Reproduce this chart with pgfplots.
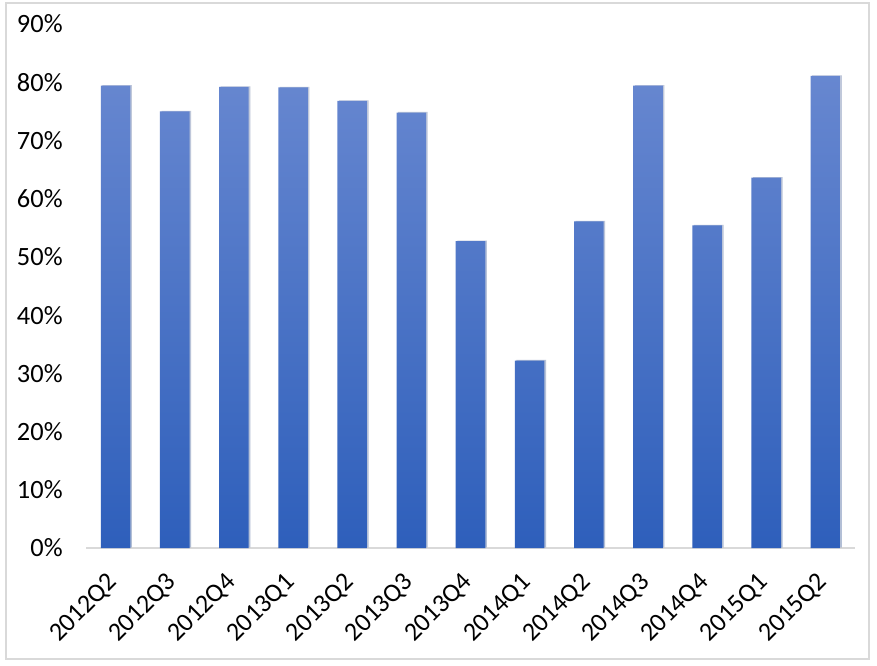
\documentclass[border=0pt]{standalone}
\usepackage{pgfplots}
\pgfplotsset{compat=1.18}
\usepackage{fontspec}
\setmainfont{Carlito}
\usetikzlibrary{shadows}
\definecolor{bartop}{HTML}{6787D0}
\definecolor{barbot}{HTML}{2E5FBB}
\definecolor{axisgray}{HTML}{D9D9D9}
\begin{document}
\begin{tikzpicture}
\useasboundingbox (-64.5pt,-87.75pt) rectangle (593.25pt,411pt);
\fill[white] (-64.5pt,-87.75pt) rectangle (593.25pt,411pt);
\draw[axisgray, line width=0.8pt] (-60pt,-83.25pt) rectangle (587.25pt,408.75pt);
\begin{axis}[
    at={(0,0)}, anchor=south west,
    scale only axis,
    width=576.75pt, height=393pt,
    xmin=-0.5, xmax=12.5,
    ymin=0, ymax=90,
    axis lines*=left,
    x axis line style={draw=axisgray, line width=0.8pt},
    y axis line style={draw=none},
    major tick length=0pt,
    xtick={0,...,12},
    xticklabels={2012Q2,2012Q3,2012Q4,2013Q1,2013Q2,2013Q3,2013Q4,2014Q1,2014Q2,2014Q3,2014Q4,2015Q1,2015Q2},
    xticklabel style={rotate=45, anchor=north east, font=\fontsize{19.5}{23}\selectfont, xshift=-14pt, yshift=-4pt},
    ytick={0,10,...,90},
    yticklabel={\pgfmathprintnumber{\tick}\%},
    yticklabel style={font=\fontsize{19.8}{24}\selectfont, xshift=-14pt},
    /pgf/number format/assume math mode=true,
    ybar, bar width=0.5,
]
\addplot[draw=none, top color=bartop, bottom color=barbot,
    drop shadow={shadow xshift=1.2pt, shadow yshift=0.4pt, opacity=0.25}]
    coordinates {
    (0,79.4) (1,75.0) (2,79.2) (3,79.1) (4,76.8) (5,74.8) (6,52.7)
    (7,32.2) (8,56.1) (9,79.4) (10,55.4) (11,63.6) (12,81.1)
    };
\end{axis}
\end{tikzpicture}
\end{document}
